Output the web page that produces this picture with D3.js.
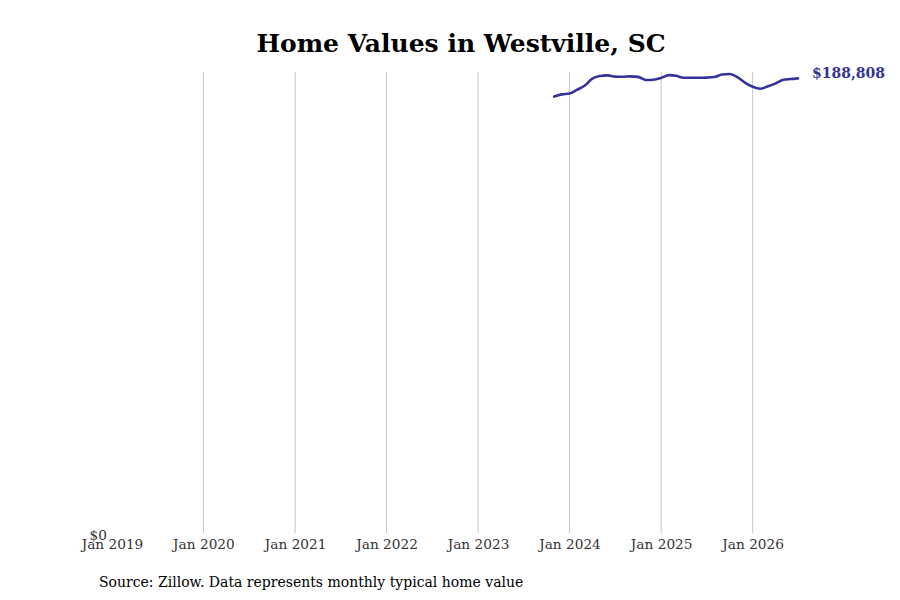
<!doctype html>
<html lang="en">
<head>
    <meta charset="utf-8" />
    <title>Home Values in Westville, SC</title>
    <style>
        body { margin: 0; background: #fff; }
        text { font-family: "DejaVu Serif", serif; }
    </style>
</head>
<body>
    <svg id="chart"></svg>

    <script src="https://cdn.jsdelivr.net/npm/d3@7"></script>
    <script>
        // monthly typical home value, Nov 2023 .. Jul 2026
        const months = [
            "2023-11", "2023-12",
            "2024-01", "2024-02", "2024-03", "2024-04", "2024-05", "2024-06",
            "2024-07", "2024-08", "2024-09", "2024-10", "2024-11", "2024-12",
            "2025-01", "2025-02", "2025-03", "2025-04", "2025-05", "2025-06",
            "2025-07", "2025-08", "2025-09", "2025-10", "2025-11", "2025-12",
            "2026-01", "2026-02", "2026-03", "2026-04", "2026-05", "2026-06",
            "2026-07"
        ];
        const values = [
            181280, 182190,
            182520, 184170, 185740, 188720, 189750, 190040,
            189540, 189460, 189630, 189420, 188100, 188220,
            189010, 190160, 189880, 189050, 189050, 189050,
            189130, 189340, 190370, 190580, 189340, 187060,
            185330, 184500, 185410, 186650, 188100, 188510,
            188808
        ];
        const tickYears = [2019, 2020, 2021, 2022, 2023, 2024, 2025, 2026];

        const width = 900, height = 600;
        const margin = {top: 72, right: 102, bottom: 65, left: 112};
        const color = "#333399";

        const parse = d3.timeParse("%Y-%m");
        const data = months.map((m, i) => ({date: parse(m), value: values[i]}));

        const svg = d3.select("#chart")
            .attr("width", width)
            .attr("height", height);

        const x = d3.scaleTime()
            .domain([new Date(2019, 0, 1), new Date(2026, 6, 1)])
            .range([margin.left, width - margin.right]);

        const y = d3.scaleLinear()
            .domain([0, d3.max(values) * 1.0045])
            .range([height - margin.bottom, margin.top]);

        const ticks = tickYears.map(yr => new Date(yr, 0, 1));

        // vertical gridlines
        svg.append("g")
            .selectAll("line")
            .data(ticks.slice(1))
            .join("line")
            .attr("x1", d => x(d))
            .attr("x2", d => x(d))
            .attr("y1", margin.top)
            .attr("y2", height - margin.bottom - 2)
            .attr("stroke", "#c8c8c8")
            .attr("stroke-width", 1);

        // x axis labels
        const xAxis = d3.axisBottom(x)
            .tickValues(ticks)
            .tickFormat(d3.timeFormat("Jan %Y"))
            .tickSize(0)
            .tickPadding(4);

        svg.append("g")
            .attr("transform", `translate(0,${height - margin.bottom})`)
            .call(xAxis)
            .call(g => g.select(".domain").remove())
            .call(g => g.selectAll("text")
                .attr("font-family", "DejaVu Serif")
                .attr("font-size", 13.7)
                .attr("fill", "#333"));

        // y axis: only $0
        const yAxis = d3.axisLeft(y)
            .tickValues([0])
            .tickFormat(d => "$" + d3.format(",")(d))
            .tickSize(0)
            .tickPadding(5);

        svg.append("g")
            .attr("transform", `translate(${margin.left},0)`)
            .call(yAxis)
            .call(g => g.select(".domain").remove())
            .call(g => g.selectAll("text")
                .attr("font-family", "DejaVu Serif")
                .attr("font-size", 13.7)
                .attr("fill", "#333"));

        const line = d3.line()
            .x(d => x(d.date))
            .y(d => y(d.value))
            .curve(d3.curveMonotoneX);

        svg.append("path")
            .datum(data)
            .attr("fill", "none")
            .attr("stroke", color)
            .attr("stroke-width", 2.6)
            .attr("stroke-linejoin", "round")
            .attr("stroke-linecap", "round")
            .attr("d", line);

        const last = data[data.length - 1];
        svg.append("text")
            .attr("x", x(last.date) + 14)
            .attr("y", y(last.value))
            .attr("dy", "-0.05em")
            .attr("font-size", 14)
            .attr("font-weight", "bold")
            .attr("fill", color)
            .text("$" + d3.format(",")(last.value));

        svg.append("text")
            .attr("x", width / 2 + 11)
            .attr("y", 52)
            .attr("text-anchor", "middle")
            .attr("font-size", 25)
            .attr("font-weight", "bold")
            .attr("fill", "#000")
            .text("Home Values in Westville, SC");

        svg.append("text")
            .attr("x", 99)
            .attr("y", 587)
            .attr("font-size", 14)
            .attr("fill", "#000")
            .text("Source: Zillow. Data represents monthly typical home value");
    </script>
</body>
</html>
